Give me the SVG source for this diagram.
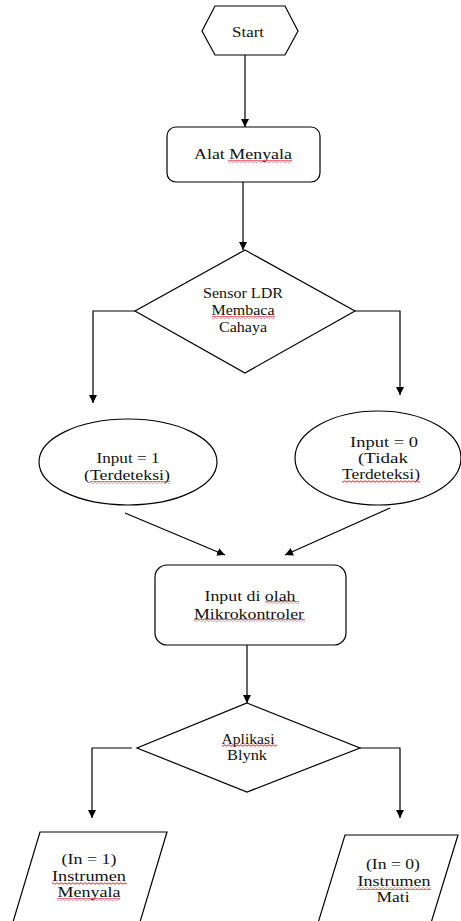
<svg xmlns="http://www.w3.org/2000/svg" width="461" height="921" viewBox="0 0 461 921">
<style>
.shape{fill:#fff;stroke:#000;stroke-width:1.2}
.conn{fill:none;stroke:#000;stroke-width:1.2}
.t{font-family:'Liberation Serif','DejaVu Serif','Times New Roman',serif;font-size:14.5px;fill:#111;text-anchor:middle}
.sq{fill:url(#squig)}
</style>
<defs>
<marker id="ah" markerUnits="userSpaceOnUse" markerWidth="9" markerHeight="9" refX="8" refY="4" orient="auto">
<path d="M0,0 L8,4 L0,8 Z" fill="#000"/>
</marker>
<pattern id="squig" patternUnits="userSpaceOnUse" width="4" height="3">
<path d="M0,1.5 Q1,0 2,1.5 T4,1.5" fill="none" stroke="#e0202a" stroke-width="1"/>
</pattern>
</defs>
<rect width="461" height="921" fill="#fff"/>
<g id="connectors">
<path class="conn" d="M245,55 V127" marker-end="url(#ah)"/>
<path class="conn" d="M243,182 V250" marker-end="url(#ah)"/>
<path class="conn" d="M135,311 H93 V403" marker-end="url(#ah)"/>
<path class="conn" d="M355,311 H400 V395" marker-end="url(#ah)"/>
<path class="conn" d="M125,513 L225,555" marker-end="url(#ah)"/>
<path class="conn" d="M390,508 L285,555" marker-end="url(#ah)"/>
<path class="conn" d="M247,645 V703" marker-end="url(#ah)"/>
<path class="conn" d="M132,748 H92 V818" marker-end="url(#ah)"/>
<path class="conn" d="M360,748 H400 V818" marker-end="url(#ah)"/>
</g>
<g id="start">
<polygon class="shape" points="215,6 285,6 298,31 285,55 215,55 202,31"/>
<text class="t" font-family="Liberation Serif, serif" x="248" y="37" textLength="32" lengthAdjust="spacingAndGlyphs">Start</text>
</g>
<g id="alat">
<rect class="shape" x="167" y="127" width="153" height="55" rx="9"/>
<text class="t" font-family="Liberation Serif, serif" x="243" y="159" textLength="98" lengthAdjust="spacingAndGlyphs">Alat Menyala</text>
<rect class="sq" x="228" y="160" width="64" height="3"/>
</g>
<g id="sensor">
<polygon class="shape" points="245,250 355,311 245,373 135,311"/>
<text class="t" x="243" y="298" textLength="80" lengthAdjust="spacingAndGlyphs">Sensor LDR</text>
<text class="t" x="243" y="315" textLength="63" lengthAdjust="spacingAndGlyphs">Membaca</text>
<rect class="sq" x="212" y="316" width="63" height="3"/>
<text class="t" x="243" y="332" textLength="48" lengthAdjust="spacingAndGlyphs">Cahaya</text>
</g>
<g id="input1">
<ellipse class="shape" cx="128" cy="462" rx="89" ry="43"/>
<text class="t" x="128" y="463" textLength="63" lengthAdjust="spacingAndGlyphs">Input = 1</text>
<text class="t" x="127" y="480" textLength="86" lengthAdjust="spacingAndGlyphs">(Terdeteksi)</text>
<rect class="sq" x="90" y="481" width="80" height="3"/>
</g>
<g id="input0">
<ellipse class="shape" cx="378" cy="458" rx="83" ry="47"/>
<text class="t" x="384" y="447" textLength="68" lengthAdjust="spacingAndGlyphs">Input = 0</text>
<text class="t" x="383" y="463" textLength="50" lengthAdjust="spacingAndGlyphs">(Tidak</text>
<text class="t" x="381" y="479" textLength="78" lengthAdjust="spacingAndGlyphs">Terdeteksi)</text>
<rect class="sq" x="342" y="480" width="78" height="3"/>
</g>
<g id="olah">
<rect class="shape" x="155" y="565" width="191" height="80" rx="12"/>
<text class="t" x="250" y="601" textLength="91" lengthAdjust="spacingAndGlyphs">Input di olah</text>
<rect class="sq" x="265" y="601" width="34" height="3"/>
<text class="t" x="249" y="619" textLength="110" lengthAdjust="spacingAndGlyphs">Mikrokontroler</text>
<rect class="sq" x="194" y="619" width="111" height="3"/>
</g>
<g id="blynk">
<polygon class="shape" points="247,703 360,748 247,792 137,748"/>
<text class="t" x="248" y="744" textLength="53" lengthAdjust="spacingAndGlyphs">Aplikasi</text>
<rect class="sq" x="222" y="744" width="55" height="3"/>
<text class="t" x="247" y="760" textLength="40" lengthAdjust="spacingAndGlyphs">Blynk</text>
</g>
<g id="out1">
<polygon class="shape" points="40,832 167,832 140,922 13,922"/>
<text class="t" x="89" y="864" textLength="55" lengthAdjust="spacingAndGlyphs">(In = 1)</text>
<text class="t" x="89" y="881" textLength="74" lengthAdjust="spacingAndGlyphs">Instrumen</text>
<rect class="sq" x="52" y="882" width="75" height="3"/>
<text class="t" x="89" y="897" textLength="63" lengthAdjust="spacingAndGlyphs">Menyala</text>
<rect class="sq" x="57" y="898" width="63" height="3"/>
</g>
<g id="out0">
<polygon class="shape" points="345,835 458,835 431,923 318,923"/>
<text class="t" x="393" y="869" textLength="54" lengthAdjust="spacingAndGlyphs">(In = 0)</text>
<text class="t" x="394" y="886" textLength="73" lengthAdjust="spacingAndGlyphs">Instrumen</text>
<rect class="sq" x="357" y="887" width="74" height="3"/>
<text class="t" x="393" y="902" textLength="33" lengthAdjust="spacingAndGlyphs">Mati</text>
</g>
</svg>
